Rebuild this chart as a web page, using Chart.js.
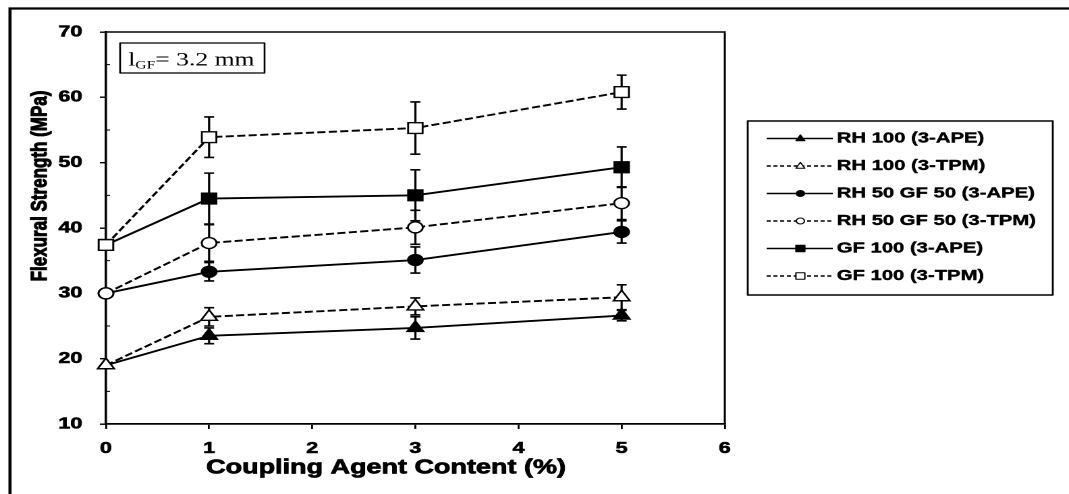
<!DOCTYPE html>
<html>
<head>
<meta charset="utf-8">
<title>Flexural Strength vs Coupling Agent Content</title>
<script src="https://cdn.jsdelivr.net/npm/chart.js@4.4.1/dist/chart.umd.min.js"></script>
<style>
  html, body { margin: 0; padding: 0; background: #fff; overflow: hidden; }
  /* the figure is laid out narrow and stretched wide, like the printed plate */
  #wrap { width: 792px; height: 494px; transform: scaleX(1.3497); transform-origin: 0 0; }
  canvas { display: block; }
</style>
</head>
<body>
<div id="wrap"><canvas id="c" width="792" height="494"></canvas></div>
<script>
// Coupling agent content (%)
const couplingContent = [0, 1, 3, 5];
const xTickValues = [0, 1, 2, 3, 4, 5, 6];
const yTickValues = [10, 20, 30, 40, 50, 60, 70];

const seriesLabels = [
  'RH 100 (3-APE)',
  'RH 100 (3-TPM)',
  'RH 50 GF 50 (3-APE)',
  'RH 50 GF 50 (3-TPM)',
  'GF 100 (3-APE)',
  'GF 100 (3-TPM)'
];

// Flexural strength (MPa) and standard deviations
const rh100Ape      = [19.0, 23.5, 24.7, 26.6];
const rh100ApeSd    = [0, 1.2, 1.7, 0.8];
const rh100Tpm      = [19.0, 26.4, 28.0, 29.4];
const rh100TpmSd    = [0, 1.4, 1.3, 1.9];
const rh50gf50Ape   = [30.0, 33.3, 35.1, 39.4];
const rh50gf50ApeSd = [0, 1.4, 2.0, 1.7];
const rh50gf50Tpm   = [30.0, 37.7, 40.1, 43.8];
const rh50gf50TpmSd = [0, 2.8, 2.6, 2.5];
const gf100Ape      = [37.4, 44.5, 45.0, 49.3];
const gf100ApeSd    = [0, 3.9, 3.9, 3.1];
const gf100Tpm      = [37.4, 53.9, 55.3, 60.8];
const gf100TpmSd    = [0, 3.1, 4.0, 2.6];

const FONT = "'Liberation Sans', Arial, sans-serif";
const SERIF = "'Liberation Serif', 'Times New Roman', serif";

function points(values) {
  return values.map((v, i) => ({ x: couplingContent[i], y: v }));
}

function series(label, values, sd, style, filled, dashed, radius, order) {
  return {
    label: label,
    data: points(values),
    sd: sd,
    borderColor: '#000',
    borderWidth: 1.9,
    borderDash: dashed ? [6, 2.5] : [],
    pointStyle: style,
    pointRadius: radius,
    pointHoverRadius: radius,
    pointBackgroundColor: filled ? '#000' : '#fff',
    pointBorderColor: '#000',
    pointBorderWidth: 1.4,
    fill: false,
    tension: 0,
    clip: false,
    order: order,
    filled: filled,
    dashed: dashed
  };
}

const datasets = [
  series(seriesLabels[0], rh100Ape,    rh100ApeSd,    'triangle', true,  false, 7,   1),
  series(seriesLabels[1], rh100Tpm,    rh100TpmSd,    'triangle', false, true,  7,   0),
  series(seriesLabels[2], rh50gf50Ape, rh50gf50ApeSd, 'circle',   true,  false, 5.5, 1),
  series(seriesLabels[3], rh50gf50Tpm, rh50gf50TpmSd, 'circle',   false, true,  5.5, 0),
  series(seriesLabels[4], gf100Ape,    gf100ApeSd,    'rect',     true,  false, 7.6, 1),
  series(seriesLabels[5], gf100Tpm,    gf100TpmSd,    'rect',     false, true,  7.6, 0)
];

// Frame, plot box and minor ticks
const framePlugin = {
  id: 'frame',
  beforeDraw(chart) {
    const { ctx, width, height } = chart;
    ctx.save();
    ctx.fillStyle = '#fff';
    ctx.fillRect(0, 0, width, height);
    ctx.strokeStyle = '#000';
    ctx.lineWidth = 2.3;
    ctx.beginPath();
    ctx.moveTo(7.4, height);
    ctx.lineTo(7.4, 8.5);
    ctx.lineTo(width, 8.5);
    ctx.stroke();
    ctx.restore();
  },
  beforeDatasetsDraw(chart) {
    const { ctx, chartArea: a, scales: { y } } = chart;
    ctx.save();
    ctx.strokeStyle = '#000';
    ctx.lineWidth = 1.5;
    ctx.beginPath();
    ctx.moveTo(a.left, a.top);
    ctx.lineTo(a.right, a.top);
    ctx.lineTo(a.right, a.bottom);
    ctx.stroke();
    // minor ticks on the y axis
    ctx.lineWidth = 1;
    ctx.beginPath();
    for (let i = 0; i < yTickValues.length - 1; i++) {
      const v = (yTickValues[i] + yTickValues[i + 1]) / 2;
      const py = y.getPixelForValue(v);
      ctx.moveTo(a.left, py);
      ctx.lineTo(a.left + 3, py);
    }
    ctx.stroke();
    ctx.restore();
  }
};

// Standard-deviation bars
const errorBarPlugin = {
  id: 'errorBars',
  beforeDatasetsDraw(chart) {
    const { ctx, scales: { x, y } } = chart;
    ctx.save();
    ctx.strokeStyle = '#000';
    ctx.lineWidth = 1.6;
    ctx.setLineDash([]);
    chart.data.datasets.forEach((ds, i) => {
      if (!chart.isDatasetVisible(i)) return;
      ds.data.forEach((pt, j) => {
        const e = ds.sd[j];
        if (!e) return;
        const px = x.getPixelForValue(pt.x);
        const top = y.getPixelForValue(pt.y + e);
        const bot = y.getPixelForValue(pt.y - e);
        const cap = 3.7;
        ctx.beginPath();
        ctx.moveTo(px, top); ctx.lineTo(px, bot);
        ctx.moveTo(px - cap, top); ctx.lineTo(px + cap, top);
        ctx.moveTo(px - cap, bot); ctx.lineTo(px + cap, bot);
        ctx.stroke();
      });
    });
    ctx.restore();
  }
};

function drawMarker(ctx, style, cx, cy, r, filled) {
  ctx.beginPath();
  if (style === 'circle') {
    ctx.arc(cx, cy, r, 0, Math.PI * 2);
  } else if (style === 'rect') {
    ctx.rect(cx - r, cy - r, 2 * r, 2 * r);
  } else {
    ctx.moveTo(cx, cy - r * 1.1);
    ctx.lineTo(cx + r, cy + r * 0.7);
    ctx.lineTo(cx - r, cy + r * 0.7);
    ctx.closePath();
  }
  ctx.fillStyle = filled ? '#000' : '#fff';
  ctx.fill();
  ctx.stroke();
}

function heavyText(ctx, text, x, y, stroke) {
  ctx.lineWidth = stroke;
  ctx.strokeText(text, x, y);
  ctx.fillText(text, x, y);
}

// Titles, legend box and the fibre-length note
const labelsPlugin = {
  id: 'labels',
  afterDraw(chart) {
    const { ctx } = chart;
    ctx.save();
    ctx.fillStyle = '#000';
    ctx.strokeStyle = '#000';
    ctx.lineJoin = 'round';

    // axis titles
    ctx.font = 'bold 20px ' + FONT;
    ctx.textAlign = 'center';
    ctx.textBaseline = 'middle';
    heavyText(ctx, 'Coupling Agent Content (%)', 286, 468, 0.7);

    ctx.save();
    ctx.translate(29.6, 186);
    ctx.rotate(-Math.PI / 2);
    ctx.font = 'bold 17px ' + FONT;
    heavyText(ctx, 'Flexural Strength (MPa)', 0, 0, 0.8);
    ctx.restore();

    // fibre length note
    ctx.lineWidth = 1.3;
    ctx.strokeRect(89, 43, 107, 30);
    ctx.textAlign = 'left';
    ctx.textBaseline = 'alphabetic';
    let tx = 95;
    ctx.font = '19px ' + SERIF;
    ctx.fillText('l', tx, 65.5);
    tx += ctx.measureText('l').width;
    ctx.font = '11.5px ' + SERIF;
    ctx.fillText('GF', tx, 68.5);
    tx += ctx.measureText('GF').width;
    ctx.font = '19px ' + SERIF;
    ctx.fillText('= 3.2 mm', tx, 65.5);

    // legend
    ctx.lineWidth = 1.4;
    ctx.strokeRect(554, 121, 226, 174);
    ctx.font = 'bold 15px ' + FONT;
    ctx.textBaseline = 'middle';
    chart.data.datasets.forEach((ds, i) => {
      const ly = 138.5 + i * 27.5;
      ctx.save();
      ctx.lineWidth = 1.4;
      ctx.setLineDash(ds.dashed ? [3, 2] : []);
      ctx.beginPath();
      ctx.moveTo(568, ly);
      ctx.lineTo(617, ly);
      ctx.stroke();
      ctx.setLineDash([]);
      ctx.lineWidth = 1;
      drawMarker(ctx, ds.pointStyle, 593, ly, ds.pointStyle === 'circle' ? 3 : 3.3, ds.filled);
      ctx.restore();
      ctx.fillStyle = '#000';
      ctx.strokeStyle = '#000';
      heavyText(ctx, ds.label, 620, ly, 0.4);
    });
    ctx.restore();
  }
};

new Chart(document.getElementById('c'), {
  type: 'line',
  data: { datasets: datasets },
  options: {
    responsive: false,
    animation: false,
    devicePixelRatio: 2,
    layout: { padding: { left: 0, top: 32, right: 255, bottom: 0 } },
    plugins: {
      legend: { display: false },
      tooltip: { enabled: false }
    },
    scales: {
      x: {
        type: 'linear',
        min: 0,
        max: 6,
        afterBuildTicks: axis => { axis.ticks = xTickValues.map(v => ({ value: v })); },
        afterFit: axis => { axis.height = 70; },
        ticks: {
          color: '#000',
          font: { family: FONT, size: 16, weight: 'bold' },
          textStrokeColor: '#000',
          textStrokeWidth: 0.6,
          padding: 10,
          maxRotation: 0,
          autoSkip: false
        },
        grid: { drawOnChartArea: false, drawTicks: true, tickLength: 5, color: '#000', lineWidth: 1.4 },
        border: { display: true, color: '#000', width: 1.8 }
      },
      y: {
        type: 'linear',
        min: 10,
        max: 70,
        afterBuildTicks: axis => { axis.ticks = yTickValues.map(v => ({ value: v })); },
        afterFit: axis => { axis.width = 78.5; },
        ticks: {
          color: '#000',
          font: { family: FONT, size: 16, weight: 'bold' },
          textStrokeColor: '#000',
          textStrokeWidth: 0.6,
          padding: 13,
          autoSkip: false
        },
        grid: { drawOnChartArea: false, drawTicks: true, tickLength: 4.5, color: '#000', lineWidth: 1.4 },
        border: { display: true, color: '#000', width: 1.8 }
      }
    }
  },
  plugins: [framePlugin, errorBarPlugin, labelsPlugin]
});
</script>
</body>
</html>
